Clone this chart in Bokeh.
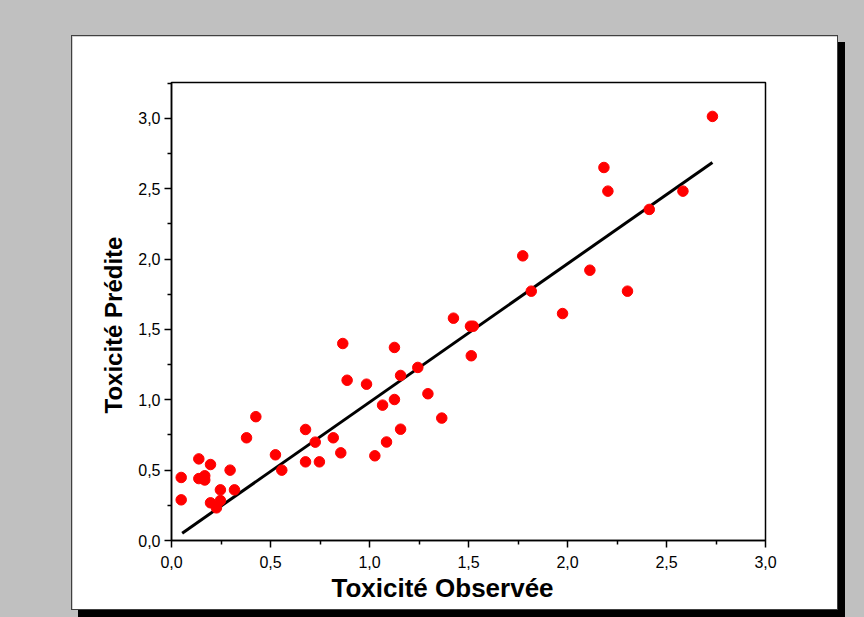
from bokeh.plotting import figure
from bokeh.models import FixedTicker, Title, Range1d
from bokeh.layouts import column
from bokeh.embed import file_html
from bokeh.resources import INLINE

obs = [0.049, 0.049, 0.138, 0.138, 0.168, 0.168, 0.197, 0.197, 0.227, 0.247,
       0.247, 0.296, 0.318, 0.379, 0.426, 0.525, 0.557, 0.677, 0.677, 0.726,
       0.747, 0.817, 0.855, 0.865, 0.887, 0.985, 1.027, 1.066, 1.086, 1.126,
       1.126, 1.157, 1.157, 1.244, 1.295, 1.365, 1.424, 1.510, 1.524, 1.514,
       1.774, 1.817, 1.975, 2.113, 2.184, 2.204, 2.303, 2.413, 2.583, 2.732]
pred = [0.448, 0.289, 0.580, 0.440, 0.460, 0.430, 0.540, 0.268, 0.232, 0.284,
        0.360, 0.500, 0.360, 0.730, 0.880, 0.609, 0.500, 0.789, 0.559, 0.699,
        0.559, 0.730, 0.623, 1.400, 1.139, 1.111, 0.602, 0.962, 0.700, 1.002,
        1.372, 1.173, 0.791, 1.230, 1.043, 0.870, 1.580, 1.523, 1.523, 1.313,
        2.023, 1.772, 1.613, 1.921, 2.651, 2.483, 1.772, 2.353, 2.483, 3.014]

# Regression line end points
fit_x = [0.054, 2.732]
fit_y = [0.052, 2.687]

x_ticks = [0.0, 0.5, 1.0, 1.5, 2.0, 2.5, 3.0]
x_tick_labels = ["0,0", "0,5", "1,0", "1,5", "2,0", "2,5", "3,0"]
x_minor = [0.25, 0.75, 1.25, 1.75, 2.25, 2.75]
y_ticks = [0.0, 0.5, 1.0, 1.5, 2.0, 2.5, 3.0]
y_tick_labels = ["0,0", "0,5", "1,0", "1,5", "2,0", "2,5", "3,0"]
y_minor = [0.25, 0.75, 1.25, 1.75, 2.25, 2.75, 3.25]

x_title = "Toxicité Observée"
y_title = "Toxicité Prédite"

FONT = "Liberation Sans"

p = figure(width=765, height=573, output_backend="svg", toolbar_location=None,
           x_range=Range1d(0, 3.0), y_range=Range1d(0, 3.255),
           min_border_left=99, min_border_right=72, min_border_top=46,
           min_border_bottom=69, margin=(36, 0, 0, 72))
p.background_fill_color = "white"
p.border_fill_color = "white"
p.outline_line_color = "black"
p.outline_line_width = 1.5
p.grid.visible = False
p.styles = {"box-shadow": "0 0 0 1px #404040, 7px 7px 0 1px #000000"}

for ax, ticks, labels, minor in ((p.xaxis[0], x_ticks, x_tick_labels, x_minor),
                                 (p.yaxis[0], y_ticks, y_tick_labels, y_minor)):
    ax.ticker = FixedTicker(ticks=ticks, minor_ticks=minor)
    ax.major_label_overrides = {t: l for t, l in zip(ticks, labels)}
    ax.major_label_text_font = FONT
    ax.major_label_text_font_size = "16px"
    ax.major_label_text_color = "black"
    ax.axis_line_width = 1.5
    ax.axis_line_color = "black"
    ax.major_tick_line_width = 1.5
    ax.minor_tick_line_width = 1.5
    ax.major_tick_out = 7
    ax.major_tick_in = 0
    ax.minor_tick_out = 4
    ax.minor_tick_in = 0
p.xaxis.major_label_standoff = 8
p.yaxis.major_label_standoff = 4
p.yaxis.major_label_orientation = "horizontal"

p.line(fit_x, fit_y, line_color="black", line_width=3)
p.scatter(obs, pred, size=10.5, fill_color="#ff0000", line_color="#ff0000")

p.add_layout(Title(text=x_title, text_font=FONT, text_font_size="26px",
                   text_font_style="bold", text_color="black",
                   align="left", offset=160, standoff=0), "below")
p.add_layout(Title(text=y_title, text_font=FONT, text_font_size="24px",
                   text_font_style="bold", text_color="black",
                   align="left", offset=127, standoff=18), "left")

root = column(p, width=864, height=617,
              styles={"background-color": "#c0c0c0"})

open("out.html", "w").write(file_html(root, INLINE))
